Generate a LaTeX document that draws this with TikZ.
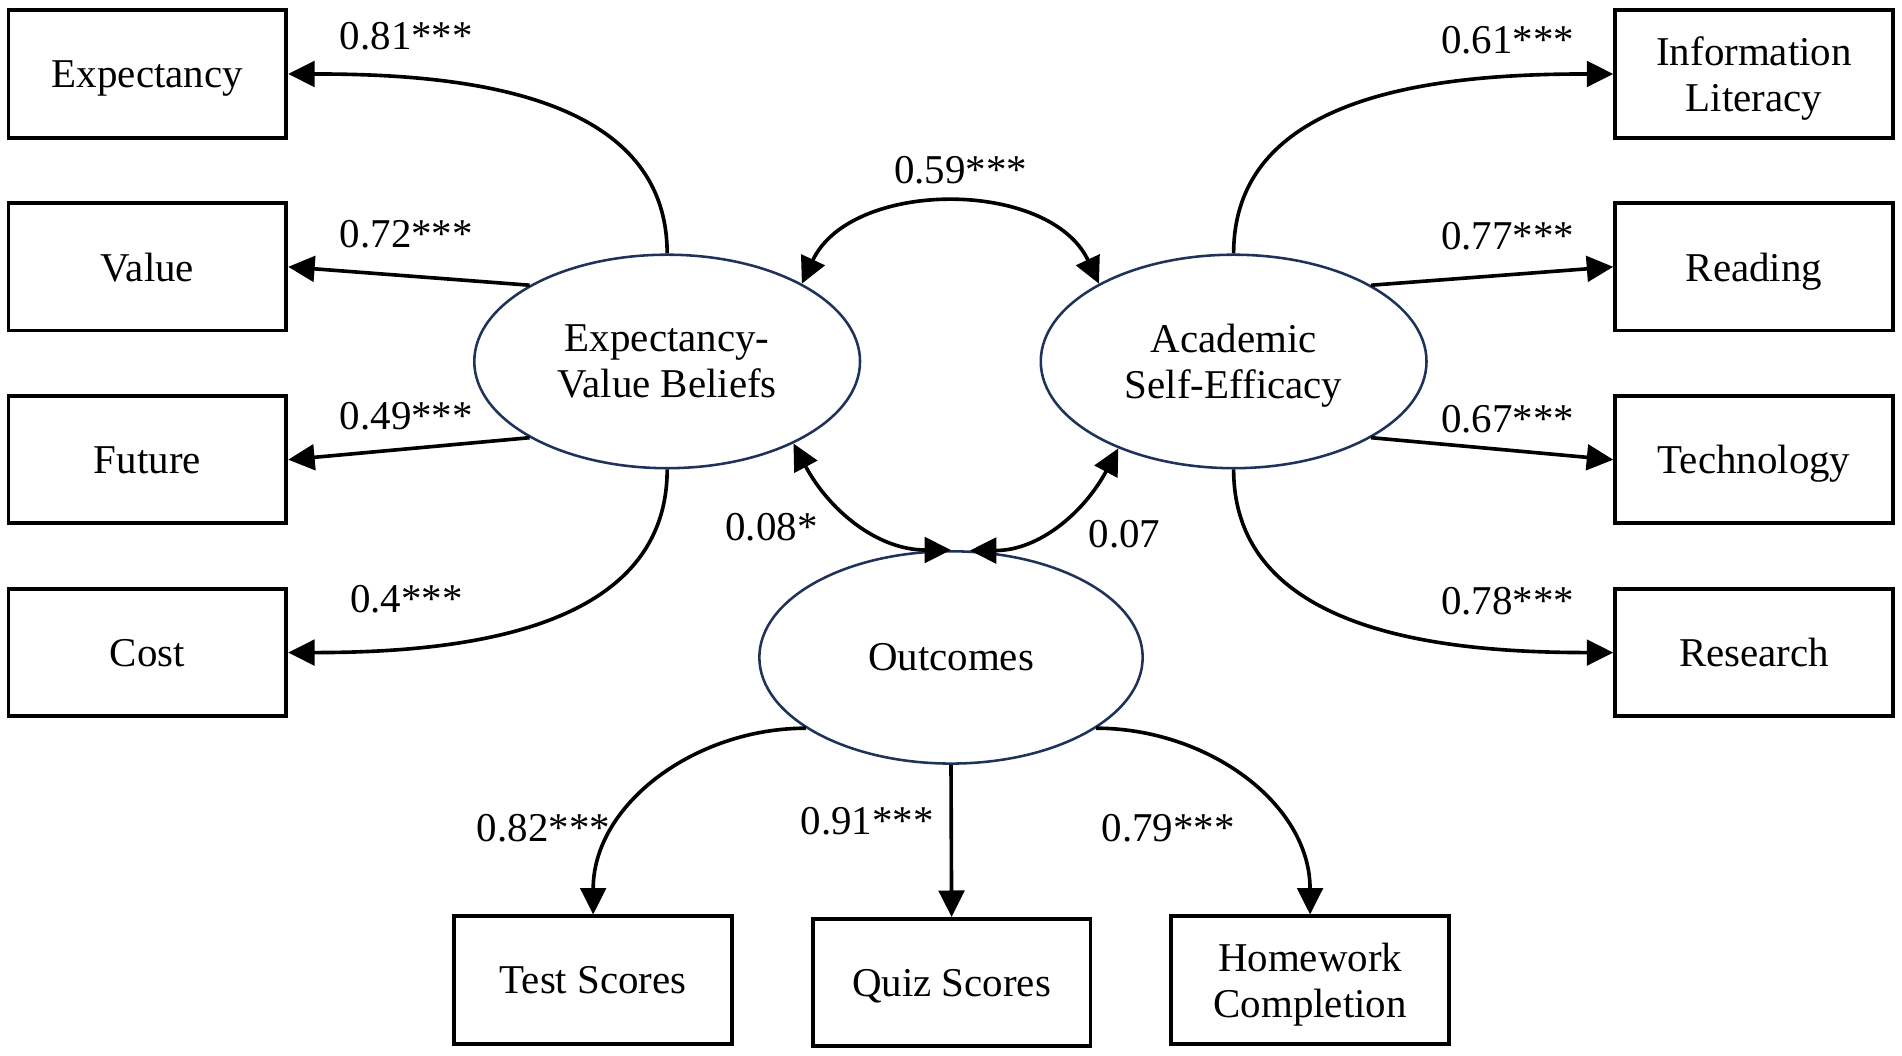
\documentclass[tikz,border=0pt]{standalone}
\usepackage{fontspec}
\setmainfont{Liberation Serif}
\usepackage{tikz}
\usetikzlibrary{shapes.geometric, arrows.meta}
\definecolor{latentblue}{RGB}{31,50,90}
\tikzstyle{indicator} = [rectangle, minimum width=2.29cm, minimum height=1.05cm, text centered, align=center, text depth=0pt, draw=black, line width=0.9pt]
\tikzstyle{latent} = [ellipse, minimum width=3.18cm, minimum height=1.76cm, inner sep=0pt, text centered, align=center, text depth=0pt, draw=latentblue, line width=0.6pt]
\tikzstyle{arrow} = [line width=0.85pt,-{Triangle[length=6.2pt,width=6pt]}]
\tikzstyle{twoway} = [line width=0.85pt,{Triangle[length=6.2pt,width=6pt]}-{Triangle[length=6.2pt,width=6pt]}]
\tikzstyle{coef} = [inner sep=1pt]

\begin{document}
\begin{tikzpicture}
			[font=\fontsize{9.6}{10.8}\selectfont]

			\useasboundingbox (0,0) rectangle (15.68,8.70);

			% latent variables
			\node (evb) [latent] at (5.50,5.72) {Expectancy-\\Value Beliefs};
			\node (ase) [latent] at (10.17,5.72) {Academic\\Self-Efficacy};
			\node (outc) [latent,minimum width=3.16cm,minimum height=1.75cm] at (7.84,3.28) {Outcomes};

			% indicators
			\node (exp) [indicator] at (1.215,8.09) {Expectancy};
			\node (val) [indicator] at (1.215,6.50) {Value};
			\node (fut) [indicator] at (1.215,4.91) {Future};
			\node (cost) [indicator] at (1.215,3.32) {Cost};
			\node (inf) [indicator] at (14.46,8.09) {Information\\Literacy};
			\node (rea) [indicator] at (14.46,6.50) {Reading};
			\node (tec) [indicator] at (14.46,4.91) {Technology};
			\node (res) [indicator] at (14.46,3.32) {Research};
			\node (tst) [indicator] at (4.89,0.62) {Test Scores};
			\node (qz) [indicator] at (7.845,0.60) {Quiz Scores};
			\node (hw) [indicator] at (10.80,0.62) {Homework\\Completion};

			% loadings
			\draw [arrow] (evb.north) to[out=90,in=0] (exp.east);
			\draw [arrow] (evb.151) -- (val.east);
			\draw [arrow] (evb.209) -- (fut.east);
			\draw [arrow] (evb.south) to[out=-90,in=0] (cost.east);
			\draw [arrow] (ase.north) to[out=90,in=180] (inf.west);
			\draw [arrow] (ase.29) -- (rea.west);
			\draw [arrow] (ase.-29) -- (tec.west);
			\draw [arrow] (ase.south) to[out=-90,in=180] (res.west);
			\draw [arrow] (outc.206) to[out=180,in=90] (tst.north);
			\draw [arrow] (outc.south) -- (qz.north);
			\draw [arrow] (outc.-26) to[out=0,in=90] (hw.north);

			% correlations
			\draw [twoway] (evb.30) to[out=65,in=115] (ase.150);
			\draw [twoway] (evb.-33) to[out=-62,in=180] (outc.north);
			\draw [twoway] (ase.217) to[out=-118,in=0] (outc.80);

			% coefficients
			\node (c81) [coef] at (3.35,8.40) {0.81***};
			\node (c72) [coef] at (3.35,6.77) {0.72***};
			\node (c49) [coef] at (3.35,5.27) {0.49***};
			\node (c40) [coef] at (3.35,3.76) {0.4***};
			\node (c61) [coef] at (12.43,8.37) {0.61***};
			\node (c77) [coef] at (12.43,6.75) {0.77***};
			\node (c67) [coef] at (12.43,5.24) {0.67***};
			\node (c78) [coef] at (12.43,3.74) {0.78***};
			\node (c59) [coef] at (7.92,7.30) {0.59***};
			\node (c08) [coef] at (6.36,4.35) {0.08*};
			\node (c07) [coef] at (9.27,4.30) {0.07};
			\node (c82) [coef] at (4.48,1.87) {0.82***};
			\node (c91) [coef] at (7.15,1.93) {0.91***};
			\node (c79) [coef] at (9.63,1.87) {0.79***};

			\end{tikzpicture}
\end{document}
